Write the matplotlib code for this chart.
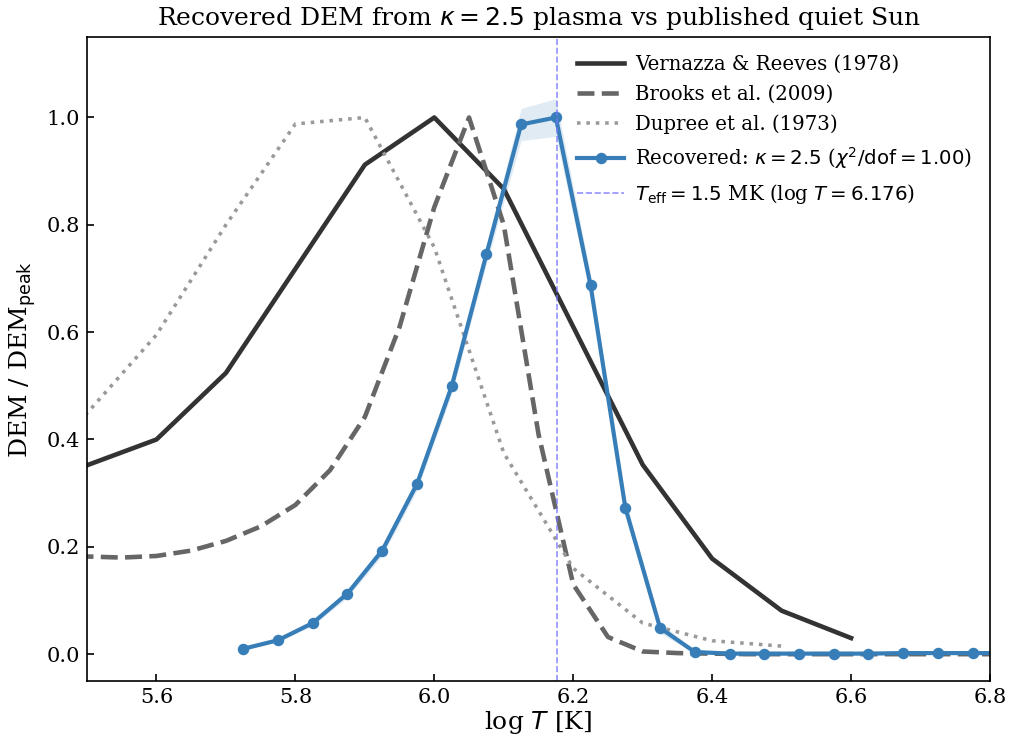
import matplotlib
matplotlib.use("Agg")
import matplotlib.pyplot as plt
import numpy as np

plt.rcParams["font.family"] = "DejaVu Serif"
plt.rcParams["mathtext.fontset"] = "dejavusans"

# Published quiet-Sun DEM curves (normalised)
vr_logt = [5.5, 5.6, 5.7, 5.8, 5.9, 6.0, 6.1, 6.2, 6.3, 6.4, 6.5, 6.6]
vr_dem = [0.352, 0.400, 0.524, 0.718, 0.912, 1.000, 0.867, 0.610, 0.353, 0.178, 0.081, 0.030]

brooks_logt = [5.45, 5.5, 5.55, 5.6, 5.65, 5.7, 5.75, 5.8, 5.85, 5.9, 5.95, 6.0, 6.05,
               6.1, 6.15, 6.2, 6.25, 6.3, 6.35, 6.4, 6.45, 6.5, 6.55, 6.6, 6.65,
               6.7, 6.75, 6.8]
brooks_dem = [0.186, 0.182, 0.180, 0.183, 0.193, 0.211, 0.238, 0.278, 0.343, 0.442, 0.610,
              0.833, 1.000, 0.800, 0.410, 0.130, 0.032, 0.005, 0.002, 0.001, 0.0, 0.0,
              0.0, 0.0, 0.0, 0.0, 0.0, 0.0]

dupree_logt = [5.4, 5.5, 5.6, 5.7, 5.8, 5.9, 6.0, 6.1, 6.2, 6.3, 6.4, 6.5]
dupree_dem = [0.30, 0.449, 0.595, 0.800, 0.988, 1.000, 0.758, 0.375, 0.160, 0.058, 0.025, 0.015]

# Recovered DEM from kappa = 2.5 plasma
rec_logt = [5.725, 5.775, 5.825, 5.875, 5.925, 5.975, 6.025, 6.075, 6.125, 6.175,
            6.225, 6.275, 6.325, 6.375, 6.425, 6.475, 6.525, 6.575, 6.625, 6.675,
            6.725, 6.775, 6.825]
rec_dem = [0.010, 0.026, 0.058, 0.113, 0.193, 0.317, 0.499, 0.745, 0.987, 1.000,
           0.687, 0.273, 0.049, 0.004, 0.001, 0.001, 0.001, 0.001, 0.001, 0.002,
           0.002, 0.002, 0.002]
rec_err = [0.002, 0.003, 0.005, 0.007, 0.010, 0.012, 0.014, 0.018, 0.030, 0.035,
           0.020, 0.014, 0.010, 0.002, 0.001, 0.001, 0.001, 0.001, 0.001, 0.001,
           0.001, 0.001, 0.001]

t_eff_logt = 6.176
rec_color = "#377eb8"

fig, ax = plt.subplots(figsize=(1009 / 150, 738 / 150), dpi=150)
fig.subplots_adjust(left=87 / 1009, right=990 / 1009, top=1 - 37 / 738, bottom=1 - 681 / 738)

ax.plot(vr_logt, vr_dem, color="#333333", lw=2.2, label="Vernazza & Reeves (1978)")
ax.plot(brooks_logt, brooks_dem, color="#666666", lw=2.2, ls="--", label="Brooks et al. (2009)")
ax.plot(dupree_logt, dupree_dem, color="#999999", lw=1.7, ls=":", label="Dupree et al. (1973)")

rec_dem_arr = np.array(rec_dem)
rec_err_arr = np.array(rec_err)
ax.fill_between(rec_logt, rec_dem_arr - rec_err_arr, rec_dem_arr + rec_err_arr,
                color=rec_color, alpha=0.15, lw=0)
ax.plot(rec_logt, rec_dem, color=rec_color, lw=2, marker="o", ms=4.5,
        label=r"Recovered: $\kappa = 2.5$ ($\chi^2/\mathrm{dof} = 1.00$)")

ax.axvline(t_eff_logt, color="#7777ff", lw=0.8, ls="--", alpha=0.8,
           label=r"$T_{\rm eff} = 1.5$ MK (log $T = 6.176$)")

ax.set_xlim(5.5, 6.8)
ax.set_ylim(-0.05, 1.15)
ax.set_xticks([5.6, 5.8, 6.0, 6.2, 6.4, 6.6, 6.8])
ax.set_yticks([0.0, 0.2, 0.4, 0.6, 0.8, 1.0])
ax.tick_params(direction="in", labelsize=10)

ax.set_xlabel(r"log $T$ [K]", fontsize=12, labelpad=1)
ax.set_ylabel(r"DEM / DEM$_{\rm peak}$", fontsize=12)
ax.set_title(r"Recovered DEM from $\kappa = 2.5$ plasma vs published quiet Sun", fontsize=12)

ax.legend(loc="upper right", frameon=False, fontsize=9.5, handlelength=2.4,
          handletextpad=0.55, labelspacing=0.55)

fig.savefig("out.png", dpi=150)
